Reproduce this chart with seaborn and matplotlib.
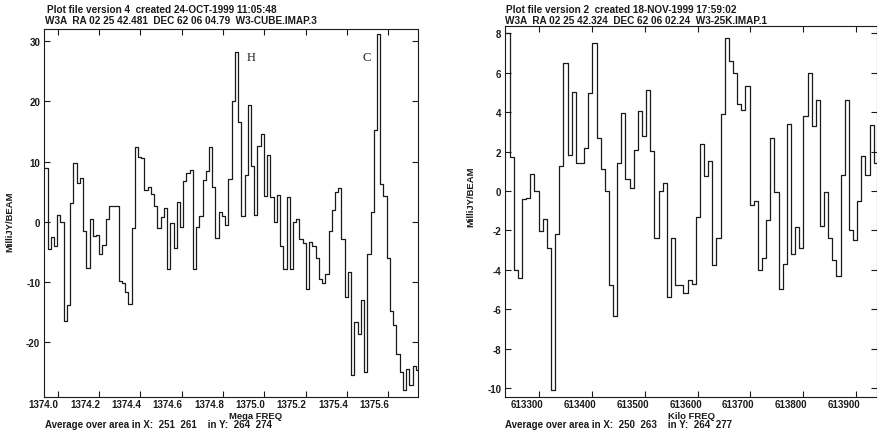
"""Two AIPS-style spectrum plots (W3A), redrawn as seaborn step plots."""
import matplotlib

matplotlib.use("agg")
import matplotlib.pyplot as plt
import matplotlib.transforms as mtransforms
import numpy as np
import seaborn as sns

# Left panel: channel values (MilliJY/BEAM), channels start at 1373.935 MHz
left_start = 1373.935
left_width = 0.015632
left_values = [
    8.9, -4.5, -2.5, -4.0, 1.2, 0.0, -16.4, -13.9, 3.1, 9.7,
    6.5, 7.2, -1.6, -7.6, 0.4, -2.4, -2.2, -5.4, -3.9, 0.5,
    2.6, 2.6, 2.6, -9.8, -10.2, -11.7, -13.6, -1.0, 12.4, 10.8,
    10.6, 5.2, 5.7, 4.6, 2.6, -1.0, 0.8, 2.3, -7.8, -0.2,
    -4.4, 3.2, -0.9, 6.7, 8.1, 8.6, -7.9, -0.8, 0.9, 6.9,
    8.5, 12.4, 5.7, -2.7, 1.6, 1.0, -0.6, 7.1, 20.0, 28.2,
    16.5, 0.9, 7.7, 19.3, 9.3, 1.2, 12.5, 14.6, 4.2, 11.0,
    4.1, 0.0, 4.4, -4.0, -7.8, 4.1, -7.8, 0.0, 0.5, -2.8,
    -3.5, -11.1, -3.4, -4.0, -6.1, -9.5, -10.1, -8.6, -1.6, 1.9,
    4.9, 5.6, -2.8, -12.5, -8.3, -25.4, -16.6, -18.6, -13.0, -24.9,
    -5.3, 1.6, 15.3, 31.2, 6.2, 4.2, -6.1, -14.9, -17.2, -22.0,
    -24.9, -28.0, -24.4, -27.1, -23.9, -24.7,
]
left_xticks = [1374.0, 1374.2, 1374.4, 1374.6, 1374.8, 1375.0, 1375.2, 1375.4, 1375.6]
left_yticks = [-20, -10, 0, 10, 20, 30]
left_lines = [(1374.937, "H"), (1375.493, "C")]

# Right panel: channels start at 613236 kHz
right_start = 613236.0
right_width = 7.84
right_values = [
    8.0, 1.7, -4.0, -4.4, -0.4, -0.35, 0.86, 0.0, -2.04, -1.45,
    -2.9, -10.1, -2.2, 1.25, 6.47, 1.8, 5.0, 1.42, 1.42, 2.2,
    4.95, 7.5, 2.7, 1.1, 0.0, -4.8, -6.35, 1.42, 3.94, 0.6,
    0.15, 2.1, 4.06, 2.8, 5.1, 2.05, -2.4, 0.0, 0.4, -5.4,
    -2.4, -4.8, -4.8, -5.2, -4.5, -4.7, -1.3, 2.4, 0.78, 1.5,
    -3.75, -2.4, 3.9, 7.77, 6.6, 6.0, 4.4, 4.1, 5.35, -0.74,
    -0.5, -4.0, -3.4, -1.5, 2.67, -0.07, -5.0, -3.7, 3.38, -3.2,
    -1.84, -2.9, 3.8, 6.0, 3.3, 4.6, -1.8, -0.04, -2.4, -3.5,
    -4.3, 0.8, 4.6, -2.0, -2.5, -0.5, 1.76, 0.81, 3.36, 1.42,
    3.8,
]
right_xticks = [613300, 613400, 613500, 613600, 613700, 613800, 613900]
right_yticks = [-10, -8, -6, -4, -2, 0, 2, 4, 6, 8]

left_header = [
    "Plot file version 4  created 24-OCT-1999 11:05:48",
    "W3A  RA 02 25 42.481  DEC 62 06 04.79  W3-CUBE.IMAP.3",
]
right_header = [
    "Plot file version 2  created 18-NOV-1999 17:59:02",
    "W3A  RA 02 25 42.324  DEC 62 06 02.24  W3-25K.IMAP.1",
]
left_footer = ["Mega FREQ", "Average over area in X:  251  261    in Y:  264  274"]
right_footer = ["Kilo FREQ", "Average over area in X:  250  263    in Y:  264  277"]

sns.set_theme(style="ticks", rc={"xtick.direction": "in", "ytick.direction": "in"})
plt.rcParams["font.family"] = ["Liberation Sans Narrow", "Liberation Sans", "DejaVu Sans"]
plt.rcParams["font.weight"] = "bold"
plt.rcParams["axes.unicode_minus"] = False

W, H = 878, 435
INK = "#1a1a1a"
fig = plt.figure(figsize=(W / 100, H / 100), dpi=100)


def px_box(x0, y0, x1, y1):
    return [x0 / W, 1 - y1 / H, (x1 - x0) / W, (y1 - y0) / H]


def step_panel(ax, start, width, values, xlim, ylim, xticks, yticks, xfmt, label_shift):
    n = len(values)
    edges = start + width * np.arange(n + 1)
    yy = list(values) + [values[-1]]
    sns.lineplot(x=edges, y=yy, ax=ax, drawstyle="steps-post", estimator=None,
                 color=INK, lw=0.9)
    ax.set_xlim(*xlim)
    ax.set_ylim(*ylim)
    ax.set_xticks(xticks)
    ax.set_xticklabels([xfmt.format(t) for t in xticks])
    ax.set_yticks(yticks)
    ax.set_xlabel("")
    ax.set_ylabel("")
    ax.tick_params(top=True, right=True, length=4.5, width=0.8, colors=INK,
                   labelsize=7.0, pad=3.0)
    ax.tick_params(axis="x", pad=1.6)
    for lab in ax.get_xticklabels() + ax.get_yticklabels():
        lab.set_fontweight("bold")
    for sp in ax.spines.values():
        sp.set_visible(True)
        sp.set_linewidth(0.8)
        sp.set_color(INK)
    # labels in the scan sit a little left of their ticks
    shift = mtransforms.ScaledTranslation(label_shift / 100, 0, fig.dpi_scale_trans)
    for lab in ax.get_xticklabels():
        lab.set_transform(lab.get_transform() + shift)


ax1 = fig.add_axes(px_box(44.3, 30, 418.3, 398))
step_panel(ax1, left_start, left_width, left_values, (1373.935, 1375.745), (-29.1, 32.0),
           left_xticks, left_yticks, "{:.1f}", -14)
for xpos, name in left_lines:
    ax1.text(xpos, 26.9, name, ha="center", va="baseline", family="Liberation Serif",
             fontweight="normal", fontsize=9, color=INK)

ax2 = fig.add_axes(px_box(505.5, 27, 877, 398))
step_panel(ax2, right_start, right_width, right_values, (613236.0, 613940.0), (-10.46, 8.37),
           right_xticks, right_yticks, "{:d}", -12)


def fig_text(x, y, s, **kw):
    fig.text(x / W, 1 - y / H, s, color=INK, fontweight="bold", **kw)


fig_text(47, 13, left_header[0], fontsize=7.2, va="baseline")
fig_text(45, 24, left_header[1], fontsize=7.2, va="baseline")
fig_text(506, 13, right_header[0], fontsize=7.2, va="baseline")
fig_text(505, 24, right_header[1], fontsize=7.2, va="baseline")

fig_text(256, 419.5, left_footer[0], fontsize=6.8, ha="center", va="baseline")
fig_text(45, 428, left_footer[1], fontsize=7.0, va="baseline")
fig_text(692, 419.5, right_footer[0], fontsize=6.8, ha="center", va="baseline")
fig_text(505, 428, right_footer[1], fontsize=7.0, va="baseline")

fig_text(9.5, 222, "MilliJY/BEAM", fontsize=6.8, rotation=90, ha="center", va="center")
fig_text(471, 197, "MilliJY/BEAM", fontsize=6.8, rotation=90, ha="center", va="center")

fig.savefig("out.png", dpi=100, facecolor="white")
plt.close("all")
